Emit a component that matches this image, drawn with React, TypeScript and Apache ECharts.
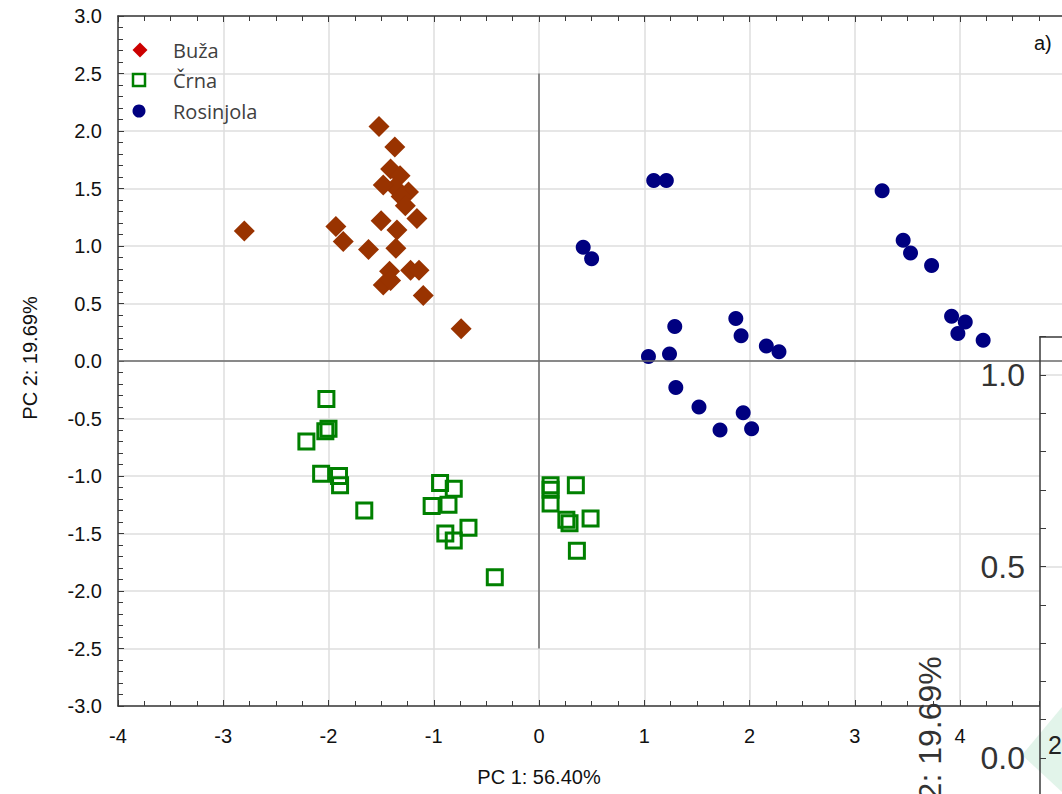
import React, { useEffect, useRef } from "react";
import * as echarts from "echarts";

// ---- data (PCA scores) ----
const groupNames = ["Buža", "Črna", "Rosinjola"];

const buzaX = [-1.52, -1.37, -1.41, -1.32, -1.37, -1.48, -1.24, -1.31, -1.27, -1.16, -1.50, -1.93, -2.80, -1.35, -1.86, -1.62, -1.36, -1.42, -1.22, -1.14, -1.48, -1.41, -1.10, -0.74];
const buzaY = [2.04, 1.86, 1.67, 1.61, 1.51, 1.53, 1.47, 1.43, 1.35, 1.24, 1.22, 1.17, 1.13, 1.14, 1.04, 0.97, 0.98, 0.78, 0.79, 0.79, 0.66, 0.70, 0.57, 0.28];

const crnaX = [-2.02, -2.00, -2.03, -2.21, -2.07, -1.90, -1.89, -1.66, -0.94, -0.81, -1.02, -0.86, -0.67, -0.89, -0.81, -0.42, 0.11, 0.11, 0.35, 0.11, 0.26, 0.29, 0.49, 0.36];
const crnaY = [-0.33, -0.59, -0.61, -0.70, -0.98, -1.00, -1.08, -1.30, -1.06, -1.11, -1.26, -1.25, -1.45, -1.50, -1.56, -1.88, -1.08, -1.12, -1.08, -1.24, -1.38, -1.41, -1.37, -1.65];

const rosX = [1.09, 1.21, 0.42, 0.50, 1.29, 1.87, 1.92, 2.16, 2.28, 1.04, 1.24, 1.30, 1.52, 1.94, 1.72, 2.02, 3.26, 3.46, 3.53, 3.73, 3.92, 4.05, 3.98, 4.22];
const rosY = [1.57, 1.57, 0.99, 0.89, 0.30, 0.37, 0.22, 0.13, 0.08, 0.04, 0.06, -0.23, -0.40, -0.45, -0.60, -0.59, 1.48, 1.05, 0.94, 0.83, 0.39, 0.34, 0.24, 0.18];

const xAxisTitle = "PC 1: 56.40%";
const yAxisTitle = "PC 2: 19.69%";
const panelLabel = "a)";
const insetTickLabels = [0, 0.5, 1.0];

const zip = (xs: number[], ys: number[]) => xs.map((x, i) => [x, ys[i]]);

export default function App() {
  const ref = useRef<HTMLDivElement>(null);

  useEffect(() => {
    if (!ref.current) return;
    const chart = echarts.init(ref.current, null, { renderer: "svg" });
    const axisColor = "#3a3a3a";
    const gridColor = "#dedede";
    const font = "'Liberation Sans', Arial, sans-serif";
    const legendFont = "'Open Sans', 'Noto Sans', sans-serif";

    const mainAxisLine = { show: true, onZero: false, lineStyle: { color: axisColor, width: 1.5 } };
    const tick = { show: true, inside: true, length: 6, lineStyle: { color: axisColor, width: 1 } };

    const option: any = {
      animation: false,
      grid: [
        { left: 118, top: 16, width: 947.25, height: 690, outerBoundsMode: "none", containLabel: false },
        { left: 1040, top: 336.7, width: 120, height: 459.6, show: true, backgroundColor: "#ffffff", borderWidth: 0, z: 3, outerBoundsMode: "none", containLabel: false },
      ],
      xAxis: [
        {
          gridIndex: 0, type: "value", min: -4, max: 5, interval: 1, position: "bottom",
          axisLine: mainAxisLine, axisTick: tick,
          minorTick: { show: true, splitNumber: 4, length: 5, lineStyle: { color: axisColor, width: 1 } },
          splitLine: { show: true, lineStyle: { color: gridColor, width: 1.5 } },
          axisLabel: { formatter: (v: number) => (v > 4.5 ? "" : String(v)), fontSize: 20, color: "#111", fontFamily: font, margin: 20 },
        },
        {
          gridIndex: 0, type: "value", min: -4, max: 5, interval: 1, position: "top",
          axisLine: mainAxisLine, axisTick: tick,
          minorTick: { show: true, splitNumber: 4, length: 5, lineStyle: { color: axisColor, width: 1 } },
          splitLine: { show: false }, axisLabel: { show: false },
        },
        {
          gridIndex: 1, type: "value", min: 0, max: 1, position: "top", z: 6,
          axisLine: { show: true, onZero: false, lineStyle: { color: axisColor, width: 1.5 } },
          axisTick: { show: false }, axisLabel: { show: false }, splitLine: { show: false },
        },
      ],
      yAxis: [
        {
          gridIndex: 0, type: "value", min: -3, max: 3, interval: 0.5, position: "left",
          axisLine: mainAxisLine, axisTick: tick,
          minorTick: { show: true, splitNumber: 5, length: 5, lineStyle: { color: axisColor, width: 1 } },
          splitLine: { show: true, lineStyle: { color: gridColor, width: 1.5 } },
          axisLabel: { formatter: (v: number) => v.toFixed(1), fontSize: 20, color: "#111", fontFamily: font, margin: 16 },
        },
        {
          gridIndex: 1, type: "value", min: -0.1, max: 1.1, interval: 0.1, position: "left", z: 6,
          axisLine: { show: true, onZero: false, lineStyle: { color: axisColor, width: 1.5 } },
          axisTick: { show: true, inside: true, length: 6, lineStyle: { color: axisColor, width: 1 } },
          splitLine: { show: false },
          axisLabel: {
            formatter: (v: number) => {
              const hit = insetTickLabels.find((t) => Math.abs(t - v) < 1e-6);
              return hit === undefined ? "" : hit.toFixed(1);
            },
            fontSize: 32, color: "#333", fontFamily: font, margin: 15,
          },
        },
      ],
      series: [
        {
          type: "line", xAxisIndex: 0, yAxisIndex: 0, data: [], z: 1, silent: true,
          markLine: {
            silent: true, symbol: ["none", "none"], label: { show: false },
            lineStyle: { color: "#6a6a6a", width: 1.5, type: "solid" },
            data: [
              [{ coord: [0, -2.5] }, { coord: [0, 2.5] }],
              [{ coord: [-4, 0] }, { coord: [5, 0] }],
            ],
          },
        },
        {
          name: groupNames[0], type: "scatter", xAxisIndex: 0, yAxisIndex: 0,
          symbol: "diamond", symbolSize: 21, itemStyle: { color: "#993300", opacity: 1 },
          data: zip(buzaX, buzaY),
        },
        {
          name: groupNames[1], type: "scatter", xAxisIndex: 0, yAxisIndex: 0,
          symbol: "rect", symbolSize: 15,
          itemStyle: { color: "rgba(0,0,0,0)", borderColor: "#008000", borderWidth: 3, opacity: 1 },
          data: zip(crnaX, crnaY),
        },
        {
          name: groupNames[2], type: "scatter", xAxisIndex: 0, yAxisIndex: 0,
          symbol: "circle", symbolSize: 15, itemStyle: { color: "#000080", opacity: 1 },
          data: zip(rosX, rosY),
        },
        {
          type: "line", xAxisIndex: 2, yAxisIndex: 1, data: [], z: 5, silent: true,
          markLine: {
            silent: true, symbol: ["none", "none"], label: { show: false },
            lineStyle: { color: gridColor, width: 1.5, type: "solid" },
            data: [{ yAxis: 0.5 }, { yAxis: 1.0 }],
          },
        },
      ],
      graphic: [
        // legend
        { type: "polygon", z: 10, shape: { points: [[140, 42.5], [147.5, 50], [140, 57.5], [132.5, 50]] }, style: { fill: "#cc0000" } },
        { type: "rect", z: 10, shape: { x: 133, y: 74, width: 12, height: 12 }, style: { fill: "none", stroke: "#008000", lineWidth: 2.5 } },
        { type: "circle", z: 10, shape: { cx: 139, cy: 111, r: 6.5 }, style: { fill: "#000080" } },
        { type: "text", z: 10, x: 173, y: 50, style: { text: groupNames[0], fontSize: 20, fontFamily: legendFont, fill: "#404040", verticalAlign: "middle" } },
        { type: "text", z: 10, x: 173, y: 80, style: { text: groupNames[1], fontSize: 20, fontFamily: legendFont, fill: "#404040", verticalAlign: "middle" } },
        { type: "text", z: 10, x: 173, y: 111, style: { text: groupNames[2], fontSize: 20, fontFamily: legendFont, fill: "#404040", verticalAlign: "middle" } },
        // panel label and axis titles
        { type: "text", z: 10, x: 1034, y: 43, style: { text: panelLabel, fontSize: 20, fontFamily: font, fill: "#111", verticalAlign: "middle" } },
        { type: "text", z: 10, x: 539, y: 777, style: { text: xAxisTitle, fontSize: 20, fontFamily: font, fill: "#111", align: "center", verticalAlign: "middle" } },
        { type: "text", z: 10, x: 30, y: 358, rotation: Math.PI / 2, style: { text: yAxisTitle, fontSize: 20, fontFamily: font, fill: "#111", align: "center", verticalAlign: "middle" } },
        // overlapping neighbouring panel fragments
        { type: "polygon", z: 4, shape: { points: [[1022, 755], [1062, 707], [1062, 792]] }, style: { fill: "#e2f4ea" } },
        { type: "text", z: 11, x: 930, y: 755, rotation: Math.PI / 2, style: { text: yAxisTitle, fontSize: 32, fontFamily: font, fill: "#333", align: "center", verticalAlign: "middle" } },
        { type: "text", z: 11, x: 1048, y: 757, style: { text: "2", fontSize: 25, fontFamily: font, fill: "#222", verticalAlign: "bottom" } },
      ],
    };

    chart.setOption(option);
    return () => chart.dispose();
  }, []);

  return <div ref={ref} style={{ position: "fixed", left: 0, top: 0, width: 1062, height: 794, background: "#fff" }} />;
}
